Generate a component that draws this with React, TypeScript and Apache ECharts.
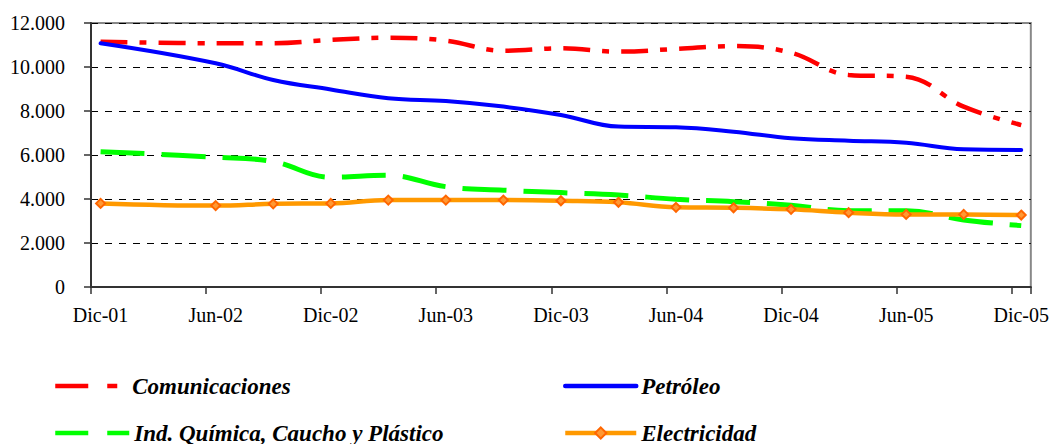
import React, { useEffect, useRef } from "react";
import * as echarts from "echarts";

const monthNames = ["Ene", "Feb", "Mar", "Abr", "May", "Jun", "Jul", "Ago", "Sep", "Oct", "Nov", "Dic"];
const years = ["02", "03", "04", "05"];
const categories: string[] = ["Dic-01"];
years.forEach((y) => monthNames.forEach((m) => categories.push(m + "-" + y)));

const pointDates = [
  "Dic-01", "Jun-02", "Sep-02", "Dic-02", "Mar-03", "Jun-03", "Sep-03", "Dic-03",
  "Mar-04", "Jun-04", "Sep-04", "Dic-04", "Mar-05", "Jun-05", "Sep-05", "Dic-05",
];

const comunicaciones = [11150, 11080, 11080, 11230, 11330, 11200, 10740, 10850, 10700, 10820, 10950, 10650, 9640, 9560, 8200, 7360];
const petroleo = [11080, 10170, 9410, 8980, 8580, 8450, 8200, 7820, 7290, 7260, 7060, 6760, 6650, 6560, 6260, 6230];
const quimica = [6150, 5900, 5700, 4990, 5080, 4560, 4400, 4290, 4180, 3990, 3880, 3720, 3470, 3470, 3050, 2790];
const electricidad = [3800, 3700, 3780, 3800, 3950, 3950, 3950, 3920, 3850, 3620, 3600, 3530, 3380, 3300, 3300, 3270];

const FONT = "'Liberation Serif', 'Times New Roman', serif";

const pairs = (vals: number[]) => vals.map((v, i) => [pointDates[i], v]);

export default function App() {
  const ref = useRef<HTMLDivElement>(null);
  useEffect(() => {
    document.body.style.margin = "0";
    const chart = echarts.init(ref.current!, undefined, { renderer: "svg" });
    const legendText = { fontFamily: FONT, fontSize: 23, fontWeight: "bold", fontStyle: "italic", color: "#000", lineHeight: 24 };
    const mkLegend = (name: string, left: number, top: number, width: number, pad: number, hideSymbol: boolean, dash?: number[]) => ({
      orient: "horizontal",
      left,
      top,
      padding: 0,
      itemWidth: width,
      itemHeight: 14,
      data: [name],
      lineStyle: dash ? { width: 4.5, type: dash } : { width: 4.5 },
      itemStyle: hideSymbol ? { opacity: 0 } : {},
      textStyle: { ...legendText, padding: [0, 0, 0, pad] },
    });
    chart.setOption({
      animation: false,
      backgroundColor: "#fff",
      grid: {
        left: 91,
        right: 21,
        top: 23,
        bottom: 157,
        show: true,
        borderColor: "#888",
        borderWidth: 2,
        backgroundColor: "transparent",
      },
      legend: [
        mkLegend("Comunicaciones", 53, 374, 62, 10, true, [33, 19, 10, 40]),
        mkLegend("Ind. Química, Caucho y Plástico", 53, 421, 74, 0, true, [33, 19, 30, 10]),
        mkLegend("Petróleo", 563, 374, 71, 0, true),
        mkLegend("Electricidad", 563, 421, 71, 0, false),
      ],
      xAxis: {
        type: "category",
        data: categories,
        boundaryGap: true,
        axisLine: { lineStyle: { color: "#333", width: 2 } },
        axisTick: { show: true, interval: 5, length: 7, lineStyle: { color: "#333", width: 1.5 } },
        axisLabel: { interval: 5, margin: 18, fontFamily: FONT, fontSize: 20, color: "#000" },
        splitLine: { show: false },
      },
      yAxis: {
        type: "value",
        min: 0,
        max: 12000,
        interval: 2000,
        axisLine: { show: true, lineStyle: { color: "#333", width: 2 } },
        axisTick: { show: true, length: 7, lineStyle: { color: "#333", width: 1.5 } },
        axisLabel: {
          margin: 26,
          fontFamily: FONT,
          fontSize: 20,
          color: "#000",
          formatter: (v: number) => String(v).replace(/\B(?=(\d{3})+(?!\d))/g, "."),
        },
        splitLine: { show: true, lineStyle: { color: "#000", width: 1, type: [7, 7] } },
      },
      series: [
        {
          name: "Comunicaciones",
          type: "line",
          data: pairs(comunicaciones),
          smooth: 0.4,
          symbol: "none",
          lineStyle: { color: "#FF0000", width: 4.5, type: [27, 12, 7, 12] },
          itemStyle: { color: "#FF0000" },
        },
        {
          name: "Petróleo",
          type: "line",
          data: pairs(petroleo),
          smooth: 0.4,
          symbol: "none",
          lineStyle: { color: "#0000FF", width: 4, cap: "round" },
          itemStyle: { color: "#0000FF" },
        },
        {
          name: "Ind. Química, Caucho y Plástico",
          type: "line",
          data: pairs(quimica),
          smooth: 0.4,
          symbol: "none",
          lineStyle: { color: "#00FF00", width: 5, type: [44, 17] },
          itemStyle: { color: "#00FF00" },
        },
        {
          name: "Electricidad",
          type: "line",
          data: pairs(electricidad),
          smooth: 0.4,
          symbol: "diamond",
          symbolSize: 9,
          lineStyle: { color: "#FF9900", width: 4.5 },
          itemStyle: { color: "#FF9933", borderColor: "#FF6600", borderWidth: 2 },
        },
      ],
    });
    return () => chart.dispose();
  }, []);
  return <div ref={ref} style={{ width: 1052, height: 444 }} />;
}
